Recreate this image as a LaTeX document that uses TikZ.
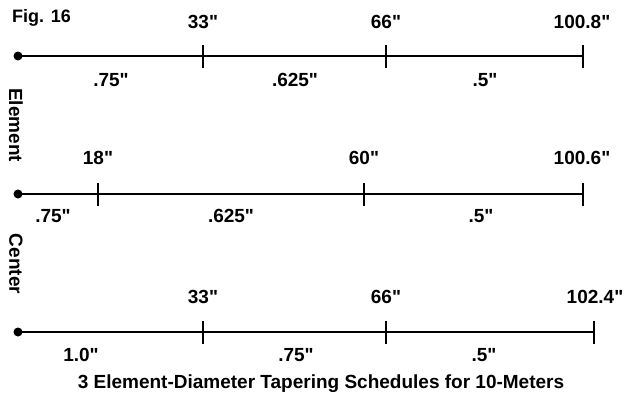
\documentclass[tikz,border=0pt]{standalone}
\usepackage{fontspec}
\newfontfamily\lbf{Liberation Sans}
\begin{document}
\begin{tikzpicture}[x=1pt,y=-1pt,
  lbl/.style={font=\lbf\bfseries\fontsize{19}{21}\selectfont, inner sep=0pt, anchor=center},
  axis/.style={line width=2pt},
  tick/.style={line width=2pt},
  dot/.style={circle, fill=black, inner sep=0pt, minimum size=9pt}]
\useasboundingbox (0,0) rectangle (632,416);
\node[lbl, anchor=west] (fig) at (12,18) {\fontsize{18}{20}\selectfont Fig. 16};
% row 1
\node[dot] (d1) at (18,56) {};
\foreach \n/\x in {a/203,b/386,c/583} {
  \coordinate (r1\n) at (\x,56);
  \draw[tick] (\x,45) -- (\x,68);
}
\draw[axis] (d1.center) -- (r1c);
\node[lbl] (t11) at (203,22) {33"};
\node[lbl] (t12) at (386,22) {66"};
\node[lbl] (t13) at (582,22) {100.8"};
\node[lbl] (b11) at (111,80) {.75"};
\node[lbl] (b12) at (295,80) {.625"};
\node[lbl] (b13) at (485,80) {.5"};
% row 2
\node[dot] (d2) at (18,194) {};
\foreach \n/\x in {a/98,b/364,c/583} {
  \coordinate (r2\n) at (\x,194);
  \draw[tick] (\x,183) -- (\x,206);
}
\draw[axis] (d2.center) -- (r2c);
\node[lbl] (t21) at (98,158) {18"};
\node[lbl] (t22) at (364,158) {60"};
\node[lbl] (t23) at (582,158) {100.6"};
\node[lbl] (b21) at (53,216) {.75"};
\node[lbl] (b22) at (231,216) {.625"};
\node[lbl] (b23) at (481,216) {.5"};
% row 3
\node[dot] (d3) at (18,332) {};
\foreach \n/\x in {a/203,b/386,c/594} {
  \coordinate (r3\n) at (\x,332);
  \draw[tick] (\x,321) -- (\x,344);
}
\draw[axis] (d3.center) -- (r3c);
\node[lbl] (t31) at (203,297) {33"};
\node[lbl] (t32) at (386,297) {66"};
\node[lbl] (t33) at (595,297) {102.4"};
\node[lbl] (b31) at (81,355) {1.0"};
\node[lbl] (b32) at (296,355) {.75"};
\node[lbl] (b33) at (484,355) {.5"};
% side labels
\node[lbl, rotate=-90] (el) at (16,125) {Element};
\node[lbl, rotate=-90] (ce) at (16,264) {Center};
% caption
\node[lbl] (cap) at (321,384) {3 Element-Diameter Tapering Schedules for 10-Meters};
\end{tikzpicture}
\end{document}
